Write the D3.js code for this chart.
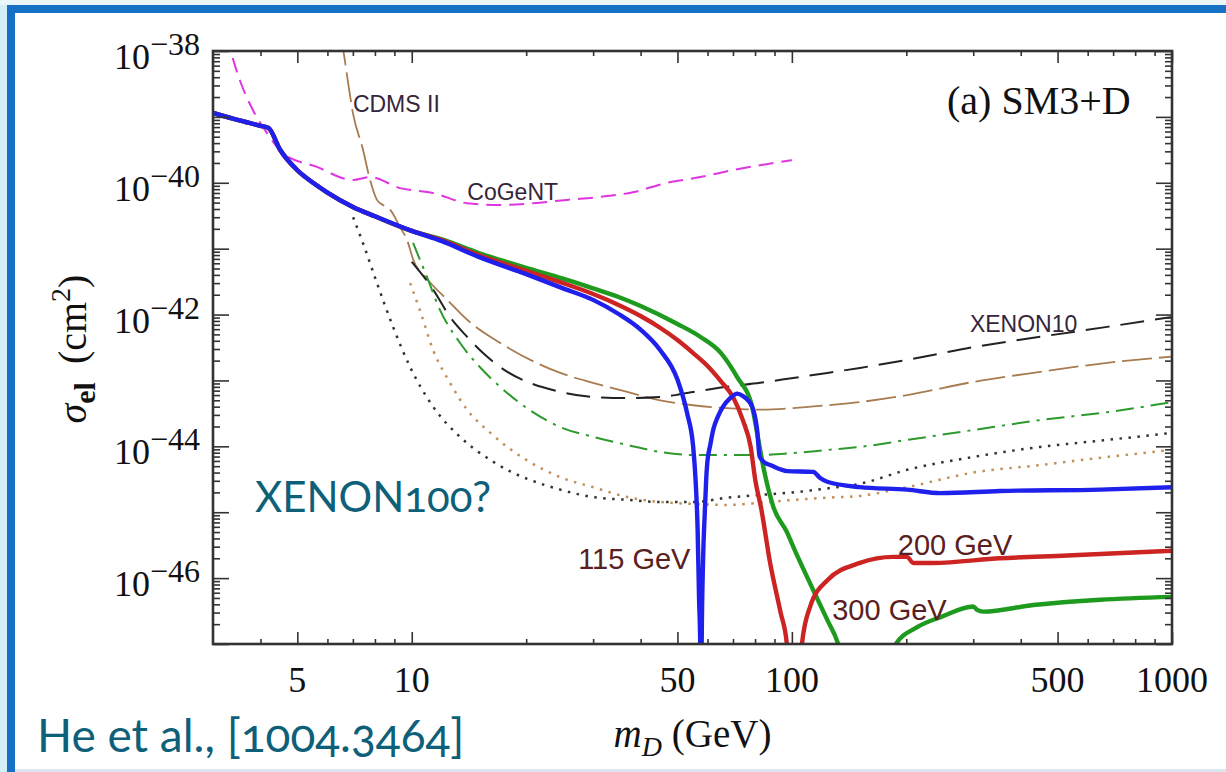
<!DOCTYPE html>
<html>
<head>
<meta charset="utf-8">
<script src="https://cdn.jsdelivr.net/npm/d3@7/dist/d3.min.js"></script>
<style>
  html, body { margin: 0; padding: 0; background: #fff; }
  svg { display: block; }
</style>
</head>
<body>
<div id="chart"></div>
<script>
// ---- data: [m_D in GeV, sigma_el in cm^2] ----
const xMajorTicks = [5, 10, 50, 100, 500, 1000];
const xMinorTicks = [4, 6, 7, 8, 9, 20, 30, 40, 60, 70, 80, 90, 200, 300, 400, 600, 700, 800, 900];
const yLabelExponents = [-38, -40, -42, -44, -46];
const yDecadeExponents = [-47, -46, -45, -44, -43, -42, -41, -40, -39, -38];

// common low-mass part shared by the three Higgs-mass curves
const commonLowMass = [
  [3, 1.15e-39], [3.5, 8.9e-40], [4, 7.3e-40], [4.2, 6.8e-40], [4.5, 3.2e-40],
  [5, 1.55e-40], [5.5, 1.0e-40], [6, 7.1e-41], [7, 4.3e-41], [8, 3.1e-41], [10, 1.86e-41]
];

const higgs115 = commonLowMass.concat([
  [12, 1.3e-41], [15, 7.5e-42], [20, 4.1e-42], [25, 2.5e-42], [30, 1.67e-42], [35, 1.02e-42],
  [40, 5.9e-43], [45, 2.9e-43], [50, 1.03e-43], [53, 3.2e-44], [55, 9.8e-45], [55.8, 3.1e-45],
  [56.5, 5.4e-46], [57.0, 4.7e-47], [57.4, 9.8e-48], [57.65, 1e-49], [57.9, 9.8e-48],
  [58.4, 1.9e-46], [59.0, 9.8e-46], [59.5, 3.1e-45], [59.9, 5.6e-45], [61, 1.05e-44],
  [62.1, 1.78e-44], [64, 2.9e-44], [65.9, 4.0e-44], [68.8, 5.4e-44], [71.8, 6.3e-44],
  [74.4, 5.8e-44], [76.7, 5.0e-44], [78.6, 4.0e-44], [80.1, 2.7e-44], [81, 1.78e-44],
  [82.3, 6.9e-45], [85.1, 5.6e-45], [87.7, 5.2e-45], [97.2, 4.2e-45], [113.8, 4.1e-45],
  [118.7, 3.3e-45], [123.9, 2.9e-45], [151, 2.4e-45], [201, 2.2e-45], [246, 1.95e-45],
  [353, 2.1e-45], [648, 2.2e-45], [1000, 2.4e-45]
]);

const higgs200 = commonLowMass.concat([
  [12, 1.35e-41], [15, 8.0e-42], [20, 4.6e-42], [25, 3.0e-42], [30, 2.05e-42], [35, 1.4e-42],
  [40, 9.5e-43], [45, 6.3e-43], [50, 4.1e-43], [55, 2.6e-43], [60, 1.66e-43], [65, 9.8e-44],
  [70, 5.6e-44], [74.3, 2.5e-44], [77.9, 9.8e-45], [80.1, 3.1e-45], [83, 1.16e-45],
  [87.7, 1.67e-46], [93.4, 3.0e-47], [97, 1.0e-47], [98.5, 2e-48],
  [101, 1e-49], [104, 2.5e-48], [106.4, 1.05e-47], [111.7, 3.7e-47], [124, 9.3e-47],
  [151, 1.7e-46], [185, 2.1e-46], [201, 2.1e-46], [208.5, 1.7e-46], [235, 1.7e-46],
  [353, 2.0e-46], [530, 2.2e-46], [1000, 2.6e-46]
]);

const higgs300 = commonLowMass.concat([
  [12, 1.38e-41], [15, 8.6e-42], [20, 5.1e-42], [25, 3.5e-42], [30, 2.5e-42], [35, 1.85e-42],
  [40, 1.35e-42], [50, 7.2e-43], [57.4, 4.6e-43], [65.1, 2.6e-43], [71.8, 1.12e-43],
  [78.6, 4.0e-44], [81, 1.6e-44], [84.1, 4.9e-45], [89.4, 1.2e-45], [97.2, 4.9e-46],
  [100.8, 3.0e-46], [113.8, 6.6e-47], [124, 2.3e-47], [132, 1.05e-47], [145, 1e-48],
  [160, 1e-49], [178, 2e-48], [187, 9.7e-48], [213.6, 1.8e-47], [248, 2.6e-47],
  [300, 3.7e-47], [307, 3.3e-47], [318.7, 3.1e-47], [431.5, 3.9e-47], [647.6, 4.7e-47],
  [1000, 5.2e-47]
]);

const cdmsII = [
  [6.48, 1.7e-38], [6.6, 1.04e-38], [6.8, 3.3e-39], [7.0, 1.15e-39], [7.44, 3.2e-40],
  [7.77, 1.1e-40], [8.1, 5.5e-41], [8.4, 4.6e-41], [8.77, 3.9e-41], [9.32, 2.1e-41],
  [9.72, 1.35e-41], [10.1, 6.7e-42], [11, 3.4e-42], [12.4, 1.67e-42], [14, 8.3e-43],
  [17.1, 3.7e-43], [24.6, 1.3e-43], [30, 9.2e-44], [36.9, 6.7e-44], [45, 5.0e-44],
  [55, 4.2e-44], [67.5, 3.8e-44], [82.5, 3.6e-44], [100.8, 3.8e-44], [124, 4.2e-44],
  [151, 4.7e-44], [201, 6.0e-44], [300, 9.5e-44], [450, 1.35e-43], [675, 1.85e-43],
  [1000, 2.3e-43]
];

const xenon10 = [
  [10, 6.3e-42], [11.38, 2.4e-42], [12.61, 9.2e-43], [13.98, 4.6e-43], [15.4, 2.6e-43],
  [17.08, 1.6e-43], [24.6, 6.7e-44], [30, 5.6e-44], [36.9, 5.4e-44], [45, 5.6e-44],
  [55, 6.7e-44], [67.5, 8.0e-44], [82.5, 9.2e-44], [100.8, 1.09e-43], [124, 1.3e-43],
  [151, 1.55e-43], [201, 2.05e-43], [300, 3.2e-43], [450, 4.6e-43], [675, 6.5e-43],
  [1000, 9.2e-43]
];

const greenDashDot = [
  [10.08, 1.22e-41], [10.97, 3.7e-42], [11.87, 1.17e-42], [13.4, 3.7e-43], [15.1, 1.6e-43],
  [17.08, 8.0e-44], [24.6, 1.96e-44], [30, 1.39e-44], [36.9, 1.05e-44], [45, 8.2e-45],
  [55, 7.4e-45], [67.5, 7.4e-45], [82.5, 7.4e-45], [100.8, 7.9e-45], [124, 8.8e-45],
  [151, 9.8e-45], [201, 1.25e-44], [300, 1.77e-44], [450, 2.5e-44], [675, 3.3e-44],
  [1000, 4.7e-44]
];

const blackDotted = [
  [7.01, 3.0e-41], [7.44, 1.22e-41], [8.1, 3.0e-42], [8.93, 6.5e-43], [9.9, 1.6e-43],
  [11.38, 4.0e-44], [13.4, 1.39e-44], [16.4, 5.8e-45], [24.6, 2.2e-45], [30, 1.7e-45],
  [36.9, 1.54e-45], [45, 1.43e-45], [55, 1.43e-45], [67.5, 1.66e-45], [82.5, 1.83e-45],
  [100.8, 2.0e-45], [124, 2.3e-45], [151, 2.7e-45], [201, 4.4e-45], [300, 6.9e-45],
  [450, 9.8e-45], [675, 1.25e-44], [1000, 1.6e-44]
];

const brownDotted = [
  [9.9, 3.0e-42], [10.5, 1.17e-42], [11.38, 2.9e-43], [12.61, 9.2e-44], [13.98, 3.6e-44],
  [16.1, 1.6e-44], [24.6, 3.4e-45], [30, 2.4e-45], [36.9, 1.7e-45], [45, 1.43e-45],
  [55, 1.34e-45], [67.5, 1.29e-45], [82.5, 1.39e-45], [100.8, 1.54e-45], [124, 1.66e-45],
  [151, 1.77e-45], [201, 2.4e-45], [300, 4.0e-45], [450, 5.2e-45], [675, 6.9e-45],
  [1000, 8.8e-45]
];

const cogent = [
  [3.25, 1.7e-38], [3.33, 1.04e-38], [3.53, 3.6e-39], [3.82, 1.27e-39], [4.16, 5.7e-40],
  [4.58, 2.8e-40], [5.63, 1.74e-40], [7.01, 1.1e-40], [7.77, 1.22e-40], [9.32, 8.3e-41],
  [11.38, 7.0e-41], [13.98, 4.9e-41], [17.08, 4.6e-41], [20.9, 4.9e-41], [25.6, 5.5e-41],
  [31.3, 6.1e-41], [38.2, 7.2e-41], [47, 1.0e-40], [57.4, 1.22e-40], [70.1, 1.56e-40],
  [100, 2.2e-40]
];

// curve annotations: text and its left-baseline anchor in data units
const curveLabels = [
  { text: "CDMS II", m: 7.0, s: 1.18e-39, kind: "small" },
  { text: "CoGeNT", m: 14, s: 5.5e-41, kind: "small" },
  { text: "XENON10", m: 294, s: 5.5e-43, kind: "small" },
  { text: "115 GeV", m: 27.4, s: 1.38e-46, kind: "big" },
  { text: "200 GeV", m: 190, s: 2.24e-46, kind: "big" },
  { text: "300 GeV", m: 127.7, s: 2.3e-47, kind: "big" }
];

// ---- layout ----
const W = 1226, H = 772;
const plot = { left: 213, top: 51, right: 1172, bottom: 644 };
const serif = "'Liberation Serif', 'Times New Roman', serif";
const sans = "'Liberation Sans', Arial, sans-serif";
const slideFont = "Lato, 'Open Sans', sans-serif";
const slideColor = "#0e6079";
const axisColor = "#333";

const svg = d3.select("#chart").append("svg")
  .attr("width", W).attr("height", H);

// slide frame
svg.append("rect").attr("width", W).attr("height", H).attr("fill", "#d4f0f6");
svg.append("rect").attr("x", 0).attr("y", 0).attr("width", W).attr("height", 5).attr("fill", "#e9f7fb");
svg.append("rect").attr("x", 7).attr("y", 5).attr("width", W - 7).attr("height", H - 5).attr("fill", "#1670c4");
svg.append("rect").attr("x", 15).attr("y", 13).attr("width", W - 15).attr("height", H - 16).attr("fill", "#fff");
svg.append("rect").attr("x", 15).attr("y", H - 3).attr("width", W - 15).attr("height", 3).attr("fill", "#dbe6f0");

const x = d3.scaleLog().domain([3, 1000]).range([plot.left, plot.right]);
const y = d3.scaleLog().domain([1e-47, 1e-38]).range([plot.bottom, plot.top]);

svg.append("clipPath").attr("id", "plotClip")
  .append("rect")
  .attr("x", plot.left).attr("y", plot.top)
  .attr("width", plot.right - plot.left).attr("height", plot.bottom - plot.top);

const line = d3.line()
  .x(d => x(d[0]))
  .y(d => y(d[1]))
  .curve(d3.curveMonotoneX);

const curves = svg.append("g").attr("clip-path", "url(#plotClip)");

const limitStyles = [
  { data: cogent, color: "#e035e0", width: 2, dash: "15,8" },
  { data: cdmsII, color: "#a87b50", width: 1.8, dash: "30,7" },
  { data: xenon10, color: "#222", width: 2, dash: "24,11" },
  { data: greenDashDot, color: "#2c9a2c", width: 2, dash: "18,7,3,7" },
  { data: blackDotted, color: "#333", width: 2.5, dash: "2.5,6.5" },
  { data: brownDotted, color: "#c0905a", width: 2.5, dash: "2.5,6.5" }
];

limitStyles.forEach(s => {
  curves.append("path")
    .datum(s.data)
    .attr("d", line)
    .attr("fill", "none")
    .attr("stroke", s.color)
    .attr("stroke-width", s.width)
    .attr("stroke-dasharray", s.dash);
});

const higgsStyles = [
  { data: higgs300, color: "#1e9b1e" },
  { data: higgs200, color: "#cc2323" },
  { data: higgs115, color: "#2020ec" }
];

higgsStyles.forEach(s => {
  curves.append("path")
    .datum(s.data)
    .attr("d", line)
    .attr("fill", "none")
    .attr("stroke", s.color)
    .attr("stroke-width", 4.4)
    .attr("stroke-linejoin", "round");
});

// frame + ticks (inward on all four sides)
function drawAxis(axis, transform) {
  const g = svg.append("g").attr("transform", transform).call(axis);
  g.select(".domain").remove();
  g.selectAll(".tick line").attr("stroke", axisColor).attr("stroke-width", 1.6);
  g.selectAll(".tick text").remove();
}

const yMinorTicks = [];
yDecadeExponents.slice(0, -1).forEach(e => {
  for (let k = 2; k <= 9; k++) yMinorTicks.push(k * Math.pow(10, e));
});
const yMajorTicks = yDecadeExponents.map(e => Math.pow(10, e));

drawAxis(d3.axisBottom(x).tickValues(xMajorTicks).tickSize(-12), `translate(0,${plot.bottom})`);
drawAxis(d3.axisBottom(x).tickValues(xMinorTicks).tickSize(-5), `translate(0,${plot.bottom})`);
drawAxis(d3.axisTop(x).tickValues(xMajorTicks).tickSize(-12), `translate(0,${plot.top})`);
drawAxis(d3.axisTop(x).tickValues(xMinorTicks).tickSize(-5), `translate(0,${plot.top})`);
drawAxis(d3.axisLeft(y).tickValues(yMajorTicks).tickSize(-16), `translate(${plot.left},0)`);
drawAxis(d3.axisLeft(y).tickValues(yMinorTicks).tickSize(-7), `translate(${plot.left},0)`);
drawAxis(d3.axisRight(y).tickValues(yMajorTicks).tickSize(-16), `translate(${plot.right},0)`);
drawAxis(d3.axisRight(y).tickValues(yMinorTicks).tickSize(-7), `translate(${plot.right},0)`);

svg.append("rect")
  .attr("x", plot.left).attr("y", plot.top)
  .attr("width", plot.right - plot.left).attr("height", plot.bottom - plot.top)
  .attr("fill", "none").attr("stroke", axisColor).attr("stroke-width", 2.6);

// tick labels
svg.append("g").selectAll("text")
  .data(xMajorTicks)
  .join("text")
  .attr("x", d => x(d))
  .attr("y", plot.bottom + 48)
  .attr("text-anchor", "middle")
  .style("font-family", serif).style("font-size", "36px").attr("fill", "#111")
  .text(d => d);

const yLabels = svg.append("g").selectAll("text")
  .data(yLabelExponents)
  .join("text")
  .attr("x", plot.left - 13)
  .attr("y", d => y(Math.pow(10, d)) + 18)
  .attr("text-anchor", "end")
  .style("font-family", serif).style("font-size", "36px").attr("fill", "#111");
yLabels.append("tspan").text("10");
yLabels.append("tspan").attr("dy", -14).style("font-size", "32px").text(d => "\u2212" + Math.abs(d));

// axis titles
const yTitle = svg.append("text")
  .attr("transform", "translate(86,349) rotate(-90)")
  .attr("text-anchor", "middle")
  .style("font-family", serif).style("font-size", "40px").attr("fill", "#111");
yTitle.append("tspan").style("font-style", "italic").text("\u03c3");
yTitle.append("tspan").attr("dy", 9).style("font-weight", "bold").style("font-size", "30px").text("el");
yTitle.append("tspan").attr("dy", -9).text("\u2009 (cm");
yTitle.append("tspan").attr("dy", -16).style("font-size", "28px").text("2");
yTitle.append("tspan").attr("dy", 16).text(")");

const xTitle = svg.append("text")
  .attr("x", (plot.left + plot.right) / 2)
  .attr("y", 747)
  .attr("text-anchor", "middle")
  .style("font-family", serif).style("font-size", "39px").attr("fill", "#111");
xTitle.append("tspan").style("font-style", "italic").text("m");
xTitle.append("tspan").attr("dy", 9).style("font-style", "italic").style("font-size", "28px").text("D");
xTitle.append("tspan").attr("dy", -9).text(" (GeV)");

svg.append("text")
  .attr("x", x(256)).attr("y", y(1.1e-39))
  .style("font-family", serif).style("font-size", "40px").attr("fill", "#111")
  .text("(a) SM3+D");

// curve annotations
svg.append("g").selectAll("text")
  .data(curveLabels)
  .join("text")
  .attr("x", d => x(d.m))
  .attr("y", d => y(d.s))
  .style("font-family", sans)
  .style("font-size", d => d.kind === "big" ? "29px" : "23px")
  .attr("fill", d => d.kind === "big" ? "#5a2020" : "#35253a")
  .text(d => d.text);

// slide overlays
svg.append("text")
  .attr("x", 255).attr("y", 512)
  .style("font-family", slideFont).style("font-size", "42px")
  .style("font-variant-numeric", "oldstyle-nums")
  .attr("fill", slideColor)
  .text("XENON100?");

svg.append("text")
  .attr("x", 37).attr("y", 752)
  .style("font-family", slideFont).style("font-size", "46px")
  .style("font-variant-numeric", "oldstyle-nums")
  .attr("fill", slideColor)
  .text("He et al., [1004.3464]");
</script>
</body>
</html>
